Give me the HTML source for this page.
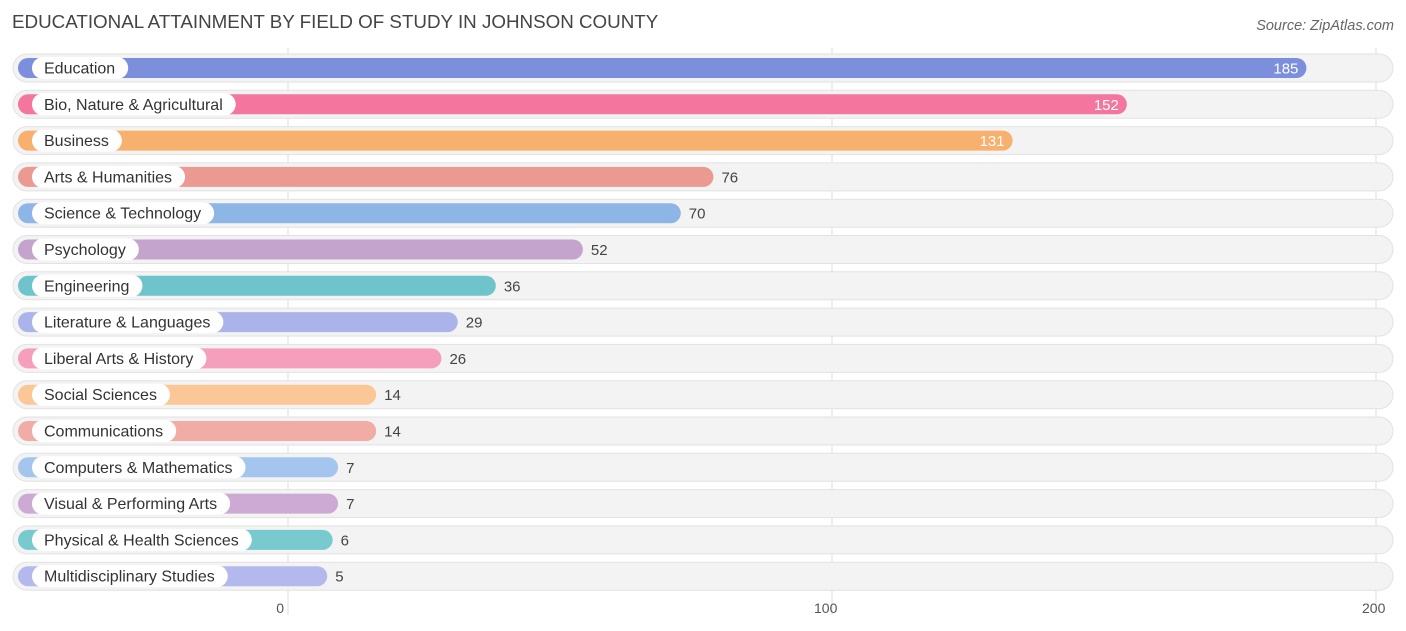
<!DOCTYPE html>
<html><head><meta charset="utf-8">
<style>
body{margin:0;background:#fff;font-family:"Liberation Sans",sans-serif;}
#wrap{position:relative;width:1406px;height:631px;overflow:hidden;}
</style></head>
<body>
<div id="wrap">
<svg id="chart" width="1406" height="631" xmlns="http://www.w3.org/2000/svg">
<text x="12" y="28" font-size="18.8" fill="#444">EDUCATIONAL ATTAINMENT BY FIELD OF STUDY IN JOHNSON COUNTY</text>
<text x="1394" y="30" font-size="14.5" fill="#666" font-style="italic" text-anchor="end">Source: ZipAtlas.com</text>
<g id="grid"></g>
<g id="rows"></g>
</svg>
</div>
<script>
const categories=["Education","Bio, Nature & Agricultural","Business","Arts & Humanities","Science & Technology","Psychology","Engineering","Literature & Languages","Liberal Arts & History","Social Sciences","Communications","Computers & Mathematics","Visual & Performing Arts","Physical & Health Sciences","Multidisciplinary Studies"];
const values=[185,152,131,76,70,52,36,29,26,14,14,7,7,6,5];
const colors=["#7b8fdc","#f4769e","#f8b06e","#eb9a92","#8db6e6","#c4a3cc","#6fc4cc","#aab4ea","#f59fbd","#fbc796","#f2aca6","#a4c6ee","#ccaad4","#78cacf","#b3b9ec"];
const ticks=[0,100,200];
const NS="http://www.w3.org/2000/svg";
const x0=288,scale=5.44;
function xs(v){return x0+v*scale;}
function ys(i){return 68+i*36.3;}
function mk(tag,attrs,parent){const e=document.createElementNS(NS,tag);for(const k in attrs)e.setAttribute(k,attrs[k]);parent.appendChild(e);return e;}
const grid=document.getElementById('grid'),rows=document.getElementById('rows');
ticks.forEach(t=>{
  const l=mk('line',{x1:xs(t),x2:xs(t),y1:48,y2:615,stroke:'#ddd','stroke-width':1},grid);
  
  
  const tx=mk('text',{y:613,'font-size':14,fill:'#555'},grid);
  tx.textContent=t;
  tx.setAttribute('x',xs(t)+(t===0?-4:t===100?-18:-14));
  tx.setAttribute('text-anchor',t===0?'end':'start');
  
  
});
categories.forEach((c,i)=>{
  const y=ys(i),v=values[i];
  const g=mk('g',{},rows);
  
  
  const bg=mk('rect',{x:13,y:y-14,width:1380,height:28,rx:14,fill:'#f3f3f3',stroke:'#e2e2e2','stroke-width':1},g);
  
  
  const end=xs(v)+12;
  const bar=mk('rect',{x:18,y:y-10,width:end-18,height:20,rx:10,fill:colors[i]},g);
  
  
  const lbl=mk('text',{x:44,y:y+5.5,'font-size':16,fill:'#333'},g);
  lbl.textContent=c;
  const w=lbl.getComputedTextLength();
  const pill=mk('rect',{x:32,y:y-11,width:w+25,height:22,rx:11,fill:'#fff'},g);
  g.insertBefore(pill,lbl);
  
  
  
  
  const inside=v>100;
  const vt=mk('text',{x:inside?end-8:end+8,y:y+5.5,'font-size':15,fill:inside?'#fff':'#444','text-anchor':inside?'end':'start'},g);
  vt.textContent=v;
  
  
});
</script>
</body></html>
